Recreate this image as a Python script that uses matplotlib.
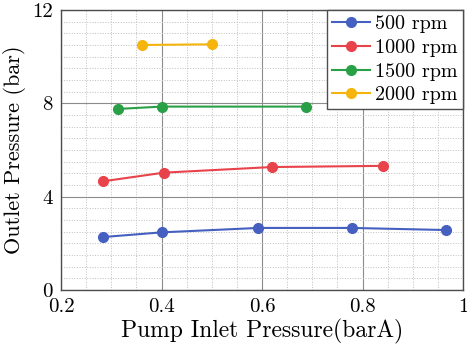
import numpy as np
import matplotlib
matplotlib.use('Agg')
import matplotlib.pyplot as plt
from matplotlib.ticker import MultipleLocator

plt.rcParams['font.family'] = ['cmr10', 'DejaVu Serif']
plt.rcParams['mathtext.fontset'] = 'cm'
plt.rcParams['axes.formatter.use_mathtext'] = True

inlet_500 = [0.284, 0.40, 0.593, 0.779, 0.966]
outlet_500 = [2.27, 2.47, 2.66, 2.66, 2.57]
inlet_1000 = [0.284, 0.405, 0.62, 0.84]
outlet_1000 = [4.66, 5.03, 5.27, 5.32]
inlet_1500 = [0.313, 0.40, 0.687]
outlet_1500 = [7.76, 7.86, 7.86]
inlet_2000 = [0.361, 0.50]
outlet_2000 = [10.50, 10.53]

labels = ['500 rpm', '1000 rpm', '1500 rpm', '2000 rpm']
colors = ['#4560c0', '#e8434a', '#2aa046', '#f5b50d']
xs = [inlet_500, inlet_1000, inlet_1500, inlet_2000]
ys = [outlet_500, outlet_1000, outlet_1500, outlet_2000]

fig = plt.figure(figsize=(4.67, 3.51), dpi=100)
ax = fig.add_axes([61/467, 61/351, 402/467, 280/351])

for i in range(len(labels)):
    ax.plot(xs[i], ys[i], '-o', c=colors[i], lw=1.5, ms=7, label=labels[i])

ax.set_xlim(0.2, 1.0)
ax.set_ylim(0, 12)
ax.xaxis.set_minor_locator(MultipleLocator(0.05))
ax.yaxis.set_minor_locator(MultipleLocator(0.5))
ax.set_xticks([0.2, 0.4, 0.6, 0.8, 1.0])
ax.set_xticklabels(['0.2', '0.4', '0.6', '0.8', '1'])
ax.set_yticks([0, 4, 8, 12])
ax.set_yticklabels(['0', '4', '8', '12'])

ax.grid(which='major', color='0.55', lw=0.8, ls='-')
ax.grid(which='minor', color='0.75', lw=0.7, ls=':')
ax.set_axisbelow(True)
ax.tick_params(which='both', length=0, labelsize=15, pad=6)
for s in ax.spines.values():
    s.set_color('0.3')
    s.set_linewidth(1.0)

ax.set_xlabel('Pump Inlet Pressure(barA)', fontsize=17, labelpad=2)
ax.set_ylabel('Outlet Pressure (bar)', fontsize=16, labelpad=4)

leg = ax.legend(loc='upper right', fontsize=14.5, frameon=True, fancybox=False,
                framealpha=1, edgecolor='0.3', borderaxespad=0, borderpad=0.25,
                handlelength=1.9, handletextpad=0.25, labelspacing=0.28)
leg.get_frame().set_linewidth(1.0)

fig.savefig('out.png', dpi=100)
plt.close()
